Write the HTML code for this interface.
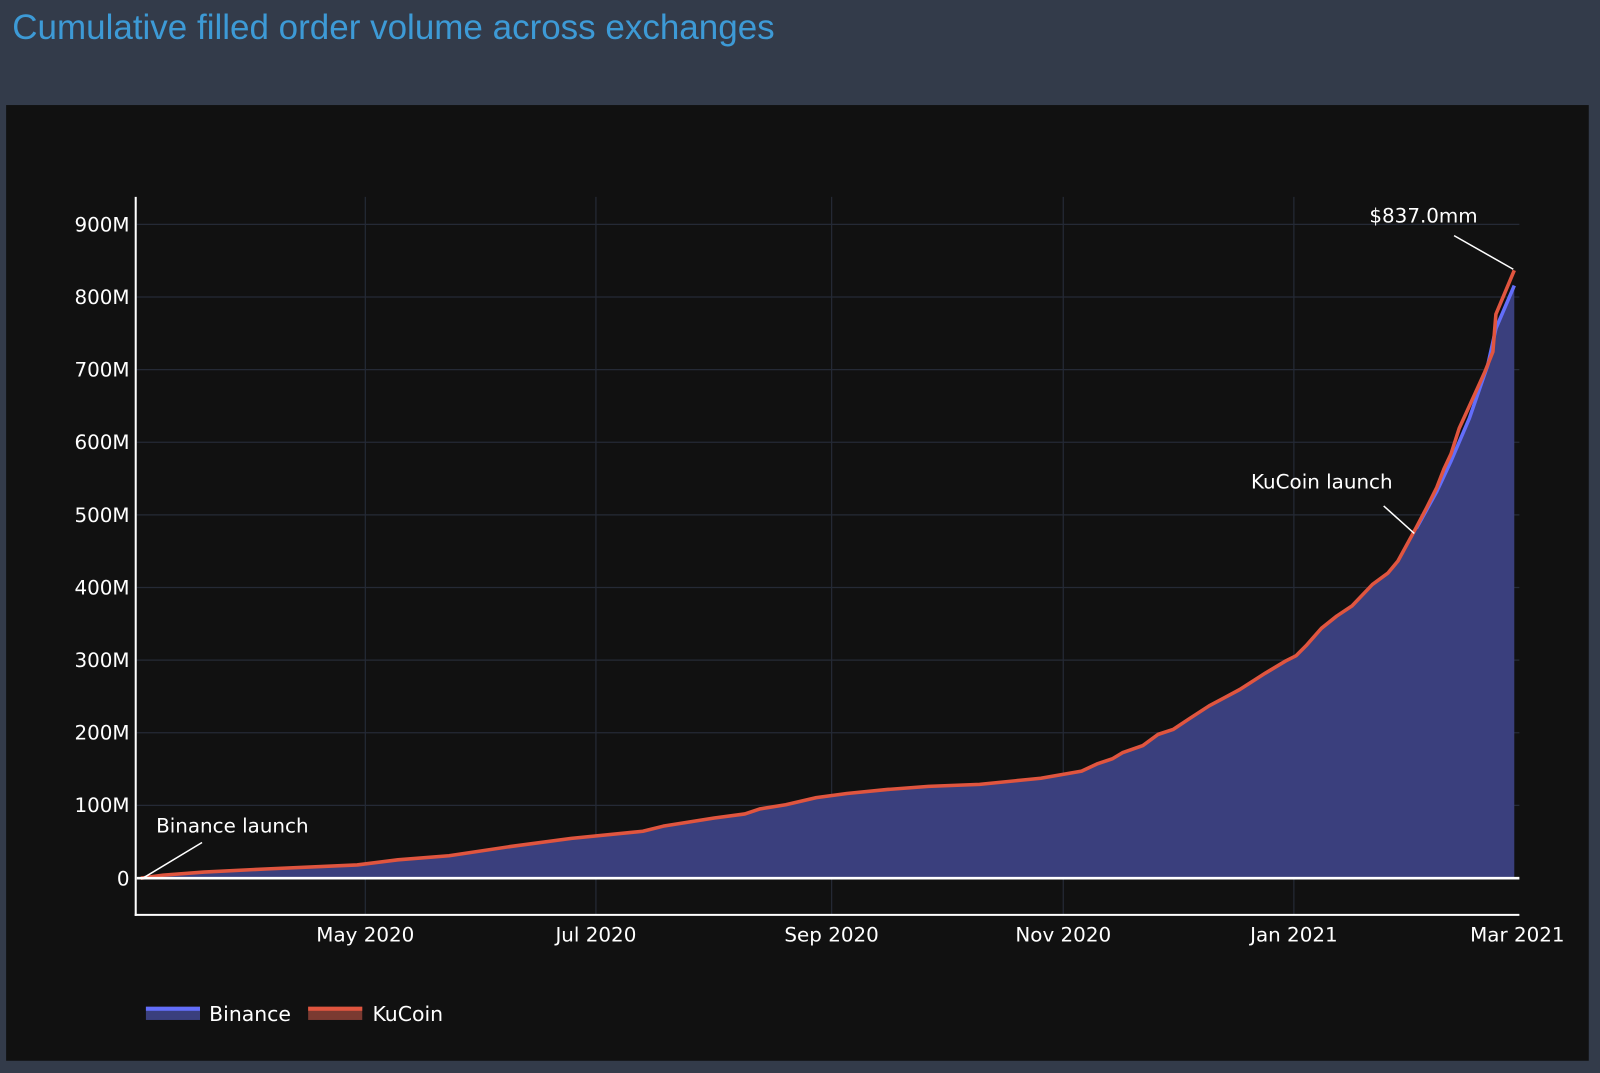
<!DOCTYPE html>
<html><head><style>html,body{margin:0;padding:0;background:#333b4a;}svg{display:block}</style></head>
<body>
<svg width="1600" height="1073" viewBox="0 0 1568 1052" preserveAspectRatio="none" xmlns="http://www.w3.org/2000/svg" font-family="'DejaVu Sans','Liberation Sans',sans-serif">
<rect width="1568" height="1052" fill="#333b4a"/>
<text x="12" y="38" font-family="'Liberation Sans',sans-serif" font-size="34.3" fill="#3d9ad6">Cumulative filled order volume across exchanges</text>
<rect x="6" y="103" width="1551" height="937" fill="#111111"/>
<g stroke="#252a36" stroke-width="1.2">
<line x1="134" x2="1489" y1="220" y2="220"/><line x1="134" x2="1489" y1="291.2" y2="291.2"/><line x1="134" x2="1489" y1="362.4" y2="362.4"/><line x1="134" x2="1489" y1="433.6" y2="433.6"/><line x1="134" x2="1489" y1="504.8" y2="504.8"/><line x1="134" x2="1489" y1="576" y2="576"/><line x1="134" x2="1489" y1="647.2" y2="647.2"/><line x1="134" x2="1489" y1="718.4" y2="718.4"/><line x1="134" x2="1489" y1="789.6" y2="789.6"/>
<line x1="358" x2="358" y1="193" y2="897"/><line x1="584" x2="584" y1="193" y2="897"/><line x1="815" x2="815" y1="193" y2="897"/><line x1="1042" x2="1042" y1="193" y2="897"/><line x1="1268" x2="1268" y1="193" y2="897"/>
</g>
<path d="M138,861 L160,858 L200,855 L260,852 L350,848 L390,843 L440,839 L500,830 L560,822 L630,815 L650,810 L700,802 L730,798 L745,793 L770,789 L800,782 L830,778 L870,774 L910,771 L960,769 L1000,765 L1020,763 L1060,756 L1075,749 L1090,744 L1100,738 L1120,731 L1135,720 L1150,715 L1165,705 L1185,692 L1200,684 L1215,676 L1240,660 L1260,648 L1270,643 L1280,633 L1295,616 L1310,604 L1325,594 L1345,573 L1360,562 L1370,550 L1388,518 L1398,500 L1408,482 L1422,452 L1440,410 L1458,358 L1466,322 L1484,280 L1484,861 Z" fill="#3a3f7d"/>
<polyline fill="none" stroke="#636efa" stroke-width="3.5" points="1388,518 1398,500 1408,482 1422,452 1440,410 1458,358 1466,322 1484,280"/>
<polyline fill="none" stroke="#e0553f" stroke-width="3.5" stroke-linejoin="round" points="138,861 160,858 200,855 260,852 350,848 390,843 440,839 500,830 560,822 630,815 650,810 700,802 730,798 745,793 770,789 800,782 830,778 870,774 910,771 960,769 1000,765 1020,763 1060,756 1075,749 1090,744 1100,738 1120,731 1135,720 1150,715 1165,705 1185,692 1200,684 1215,676 1240,660 1260,648 1270,643 1280,633 1295,616 1310,604 1325,594 1345,573 1360,562 1370,550 1388,517 1398,498 1408,478 1415,460 1422,445 1430,420 1440,398 1455,365 1463,345 1466,308 1484,265"/>
<line x1="134" x2="1489" y1="861" y2="861" stroke="#ffffff" stroke-width="2.5"/>
<line x1="133" x2="133" y1="193" y2="898" stroke="#ffffff" stroke-width="2"/>
<line x1="132" x2="1489" y1="897" y2="897" stroke="#ffffff" stroke-width="2"/>
<g fill="#ffffff" font-size="19.5" text-anchor="end">
<text x="127" y="227">900M</text><text x="127" y="298">800M</text><text x="127" y="369">700M</text><text x="127" y="440">600M</text><text x="127" y="512">500M</text><text x="127" y="583">400M</text><text x="127" y="654">300M</text><text x="127" y="725">200M</text><text x="127" y="796">100M</text><text x="127" y="868">0</text>
</g>
<g fill="#ffffff" font-size="19.5" text-anchor="middle">
<text x="358" y="923">May 2020</text><text x="584" y="923">Jul 2020</text><text x="815" y="923">Sep 2020</text><text x="1042" y="923">Nov 2020</text><text x="1268" y="923">Jan 2021</text><text x="1487" y="923">Mar 2021</text>
</g>
<g stroke="#ffffff" stroke-width="1.5">
<line x1="198" y1="826" x2="140" y2="861"/><line x1="1356" y1="496" x2="1386" y2="523"/><line x1="1425" y1="231" x2="1483" y2="264"/>
</g>
<g fill="#ffffff" font-size="19.5">
<text x="153" y="816">Binance launch</text><text x="1226" y="479">KuCoin launch</text><text x="1342" y="218">$837.0mm</text>
</g>
<rect x="143" y="987" width="53" height="13" fill="#3a3f7d"/><rect x="143" y="987" width="53" height="4" fill="#636efa"/>
<text x="205" y="1001" fill="#ffffff" font-size="20">Binance</text>
<rect x="302" y="987" width="53" height="13" fill="#7a3a31"/><rect x="302" y="987" width="53" height="4" fill="#e0553f"/>
<text x="365" y="1001" fill="#ffffff" font-size="20">KuCoin</text>
</svg>
</body></html>
